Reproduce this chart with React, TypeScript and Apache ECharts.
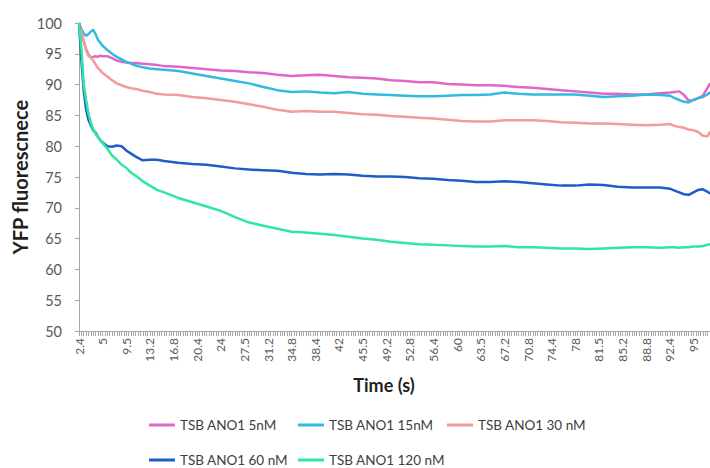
import React, { useEffect, useRef } from "react";
import * as echarts from "echarts";

// Category tick labels (time in s), one label every 10 samples
const tickLabels = [
  "2.4", "5", "9.5", "13.2", "16.8", "20.4", "24", "27.5", "31.2", "34.8",
  "38.4", "42", "45.5", "49.2", "52.8", "56.4", "60", "63.5", "67.2", "70.8",
  "74.4", "78", "81.5", "85.2", "88.8", "92.4", "95",
];

// Sample positions (category index) at which the curves were read
const sampleIdx = [
  0, 1, 2, 3, 4, 5, 6, 7, 8, 9, 10, 12, 14, 16, 18, 20, 22, 24, 27, 30, 33, 36,
  42, 48, 54, 60, 66, 72, 78, 84, 90, 96, 102, 108, 114, 120, 126, 132, 138, 144,
  150, 156, 162, 168, 174, 180, 186, 192, 198, 204, 210, 216, 222, 228, 234, 240,
  246, 250, 252, 254, 256, 258, 260, 262, 264, 266, 267,
];

const seriesNames = [
  "TSB ANO1 5nM",
  "TSB ANO1 15nM",
  "TSB ANO1 30 nM",
  "TSB ANO1 60 nM",
  "TSB ANO1 120 nM",
];

const v5nM = [
  100, 98.5, 97, 95.8, 94.9, 94.4, 94.5, 94.6, 94.5, 94.7, 94.6, 94.6, 94.3, 93.9,
  93.7, 93.6, 93.5, 93.5, 93.4, 93.3, 93.2, 93.0, 92.9, 92.7, 92.5, 92.3, 92.2,
  92.0, 91.9, 91.6, 91.4, 91.5, 91.6, 91.4, 91.2, 91.1, 91.0, 90.7, 90.6, 90.4,
  90.4, 90.1, 90.0, 89.9, 89.9, 89.8, 89.6, 89.5, 89.3, 89.1, 88.9, 88.7, 88.5,
  88.5, 88.4, 88.4, 88.6, 88.7, 88.8, 88.9, 88.3, 87.4, 87.5, 87.8, 88.2, 89.5, 90.2,
];

const v15nM = [
  100, 99, 98.3, 97.9, 98.2, 98.6, 98.9, 98.2, 97.3, 96.8, 96.3, 95.6, 95.0, 94.5,
  94.1, 93.7, 93.4, 93.1, 92.8, 92.6, 92.5, 92.4, 92.2, 91.8, 91.4, 91.0, 90.6,
  90.2, 89.6, 89.1, 88.8, 88.9, 88.7, 88.6, 88.8, 88.5, 88.4, 88.3, 88.2, 88.1,
  88.1, 88.2, 88.3, 88.3, 88.4, 88.7, 88.5, 88.4, 88.4, 88.4, 88.4, 88.2, 88.0,
  88.1, 88.2, 88.4, 88.3, 88.2, 87.8, 87.5, 87.2, 87.1, 87.5, 87.8, 88.0, 88.4, 88.8,
];

const v30nM = [
  100, 98.5, 97.2, 95.5, 94.6, 94.4, 93.9, 93.3, 92.7, 92.3, 91.9, 91.3, 90.7,
  90.2, 89.9, 89.6, 89.4, 89.3, 89.0, 88.8, 88.5, 88.4, 88.3, 88.0, 87.8, 87.5,
  87.2, 86.8, 86.4, 85.9, 85.6, 85.7, 85.6, 85.6, 85.4, 85.2, 85.1, 84.9, 84.8,
  84.6, 84.5, 84.3, 84.1, 84.0, 84.0, 84.2, 84.2, 84.2, 84.1, 83.9, 83.8, 83.7,
  83.7, 83.6, 83.5, 83.4, 83.5, 83.6, 83.3, 83.1, 83.0, 82.7, 82.6, 82.3, 81.7, 81.6, 82.4,
];

const v60nM = [
  100, 94, 89, 86, 84.3, 83.4, 82.6, 82.2, 81.5, 81.0, 80.6, 80.0, 79.9, 80.1,
  80.0, 79.3, 78.8, 78.3, 77.7, 77.8, 77.8, 77.6, 77.3, 77.1, 77.0, 76.7, 76.4,
  76.2, 76.1, 76.0, 75.7, 75.5, 75.4, 75.5, 75.4, 75.2, 75.1, 75.1, 75.0, 74.8,
  74.7, 74.5, 74.4, 74.2, 74.2, 74.3, 74.2, 74.0, 73.8, 73.6, 73.6, 73.8, 73.7,
  73.4, 73.3, 73.3, 73.3, 73.1, 72.8, 72.5, 72.2, 72.1, 72.5, 72.9, 73.0, 72.6, 72.3,
];

const v120nM = [
  100, 96, 90, 87.5, 85.3, 83.8, 82.8, 82.0, 81.5, 81.0, 80.5, 79.6, 78.5, 77.8,
  77.0, 76.5, 75.7, 75.2, 74.3, 73.6, 72.9, 72.5, 71.6, 70.9, 70.2, 69.5, 68.5,
  67.6, 67.1, 66.6, 66.1, 66.0, 65.8, 65.6, 65.3, 65.0, 64.8, 64.5, 64.3, 64.1,
  64.0, 63.9, 63.8, 63.7, 63.7, 63.8, 63.6, 63.6, 63.5, 63.4, 63.4, 63.3, 63.4,
  63.5, 63.6, 63.6, 63.5, 63.6, 63.6, 63.5, 63.6, 63.6, 63.7, 63.7, 63.8, 64.0, 64.1,
];

const seriesValues = [v5nM, v15nM, v30nM, v60nM, v120nM];
const seriesColors = ["#E066C8", "#30BBDF", "#F09C9C", "#1F5CC6", "#2FE6A2"];

const FONT = "Lato, 'Open Sans', sans-serif";

export default function App() {
  const ref = useRef<HTMLDivElement>(null);

  useEffect(() => {
    if (!ref.current) return;
    const chart = echarts.init(ref.current, null, { renderer: "svg" });

    // Legend slots (left, top), one per series, in a 3 + 2 layout
    const legendSlots = [
      [149, 418],
      [298, 418],
      [447, 418],
      [149, 453],
      [298, 453],
    ];

    const legends = seriesNames.map((name, i) => ({
      orient: "horizontal",
      icon: "rect",
      itemWidth: 26,
      itemHeight: 3,
      padding: 0,
      left: legendSlots[i][0],
      top: legendSlots[i][1],
      data: [name],
      textStyle: { fontFamily: FONT, fontSize: 13.5, color: "#404040" },
    }));

    chart.setOption({
      animation: false,
      backgroundColor: "#ffffff",
      grid: { left: 79, right: 0, top: 23, bottom: 137 },
      xAxis: {
        type: "value",
        min: 0,
        max: 267,
        interval: 10,
        axisLine: { show: true, lineStyle: { color: "#A6A6A6", width: 1 } },
        axisTick: { show: true, length: 5, lineStyle: { color: "#A6A6A6" } },
        minorTick: { show: true, splitNumber: 10, length: 5, lineStyle: { color: "#A6A6A6" } },
        splitLine: { show: false },
        minorSplitLine: { show: false },
        axisLabel: {
          rotate: 90,
          margin: 7,
          fontFamily: FONT,
          fontSize: 12,
          color: "#595959",
          showMaxLabel: false,
          formatter: (v: number) => {
            const k = v / 10;
            return Number.isInteger(k) && tickLabels[k] !== undefined ? tickLabels[k] : "";
          },
        },
      },
      yAxis: {
        type: "value",
        min: 50,
        max: 100,
        interval: 5,
        axisLine: { show: true, lineStyle: { color: "#A6A6A6", width: 1 } },
        axisTick: { show: true, length: 4, lineStyle: { color: "#A6A6A6" } },
        splitLine: { show: false },
        axisLabel: { fontFamily: FONT, fontSize: 14.5, color: "#595959", margin: 17 },
      },
      legend: legends,
      graphic: [
        {
          type: "text",
          x: 384,
          y: 385,
          style: {
            text: "Time (s)",
            font: `bold 18px ${FONT}`,
            fill: "#1f1f1f",
            align: "center",
            verticalAlign: "middle",
          },
        },
        {
          type: "text",
          x: 20,
          y: 177,
          rotation: Math.PI / 2,
          style: {
            text: "YFP fluorescnece",
            font: `bold 20px ${FONT}`,
            fill: "#1f1f1f",
            align: "center",
            verticalAlign: "middle",
          },
        },
      ],
      series: seriesNames.map((name, s) => ({
        name,
        type: "line",
        showSymbol: false,
        symbol: "none",
        clip: true,
        color: seriesColors[s],
        lineStyle: { width: 2.5, color: seriesColors[s] },
        data: sampleIdx.map((x, i) => [x, seriesValues[s][i]]),
      })),
    });

    return () => chart.dispose();
  }, []);

  return (
    <div
      ref={ref}
      style={{ position: "fixed", left: 0, top: 0, width: 710, height: 468, background: "#fff" }}
    />
  );
}
